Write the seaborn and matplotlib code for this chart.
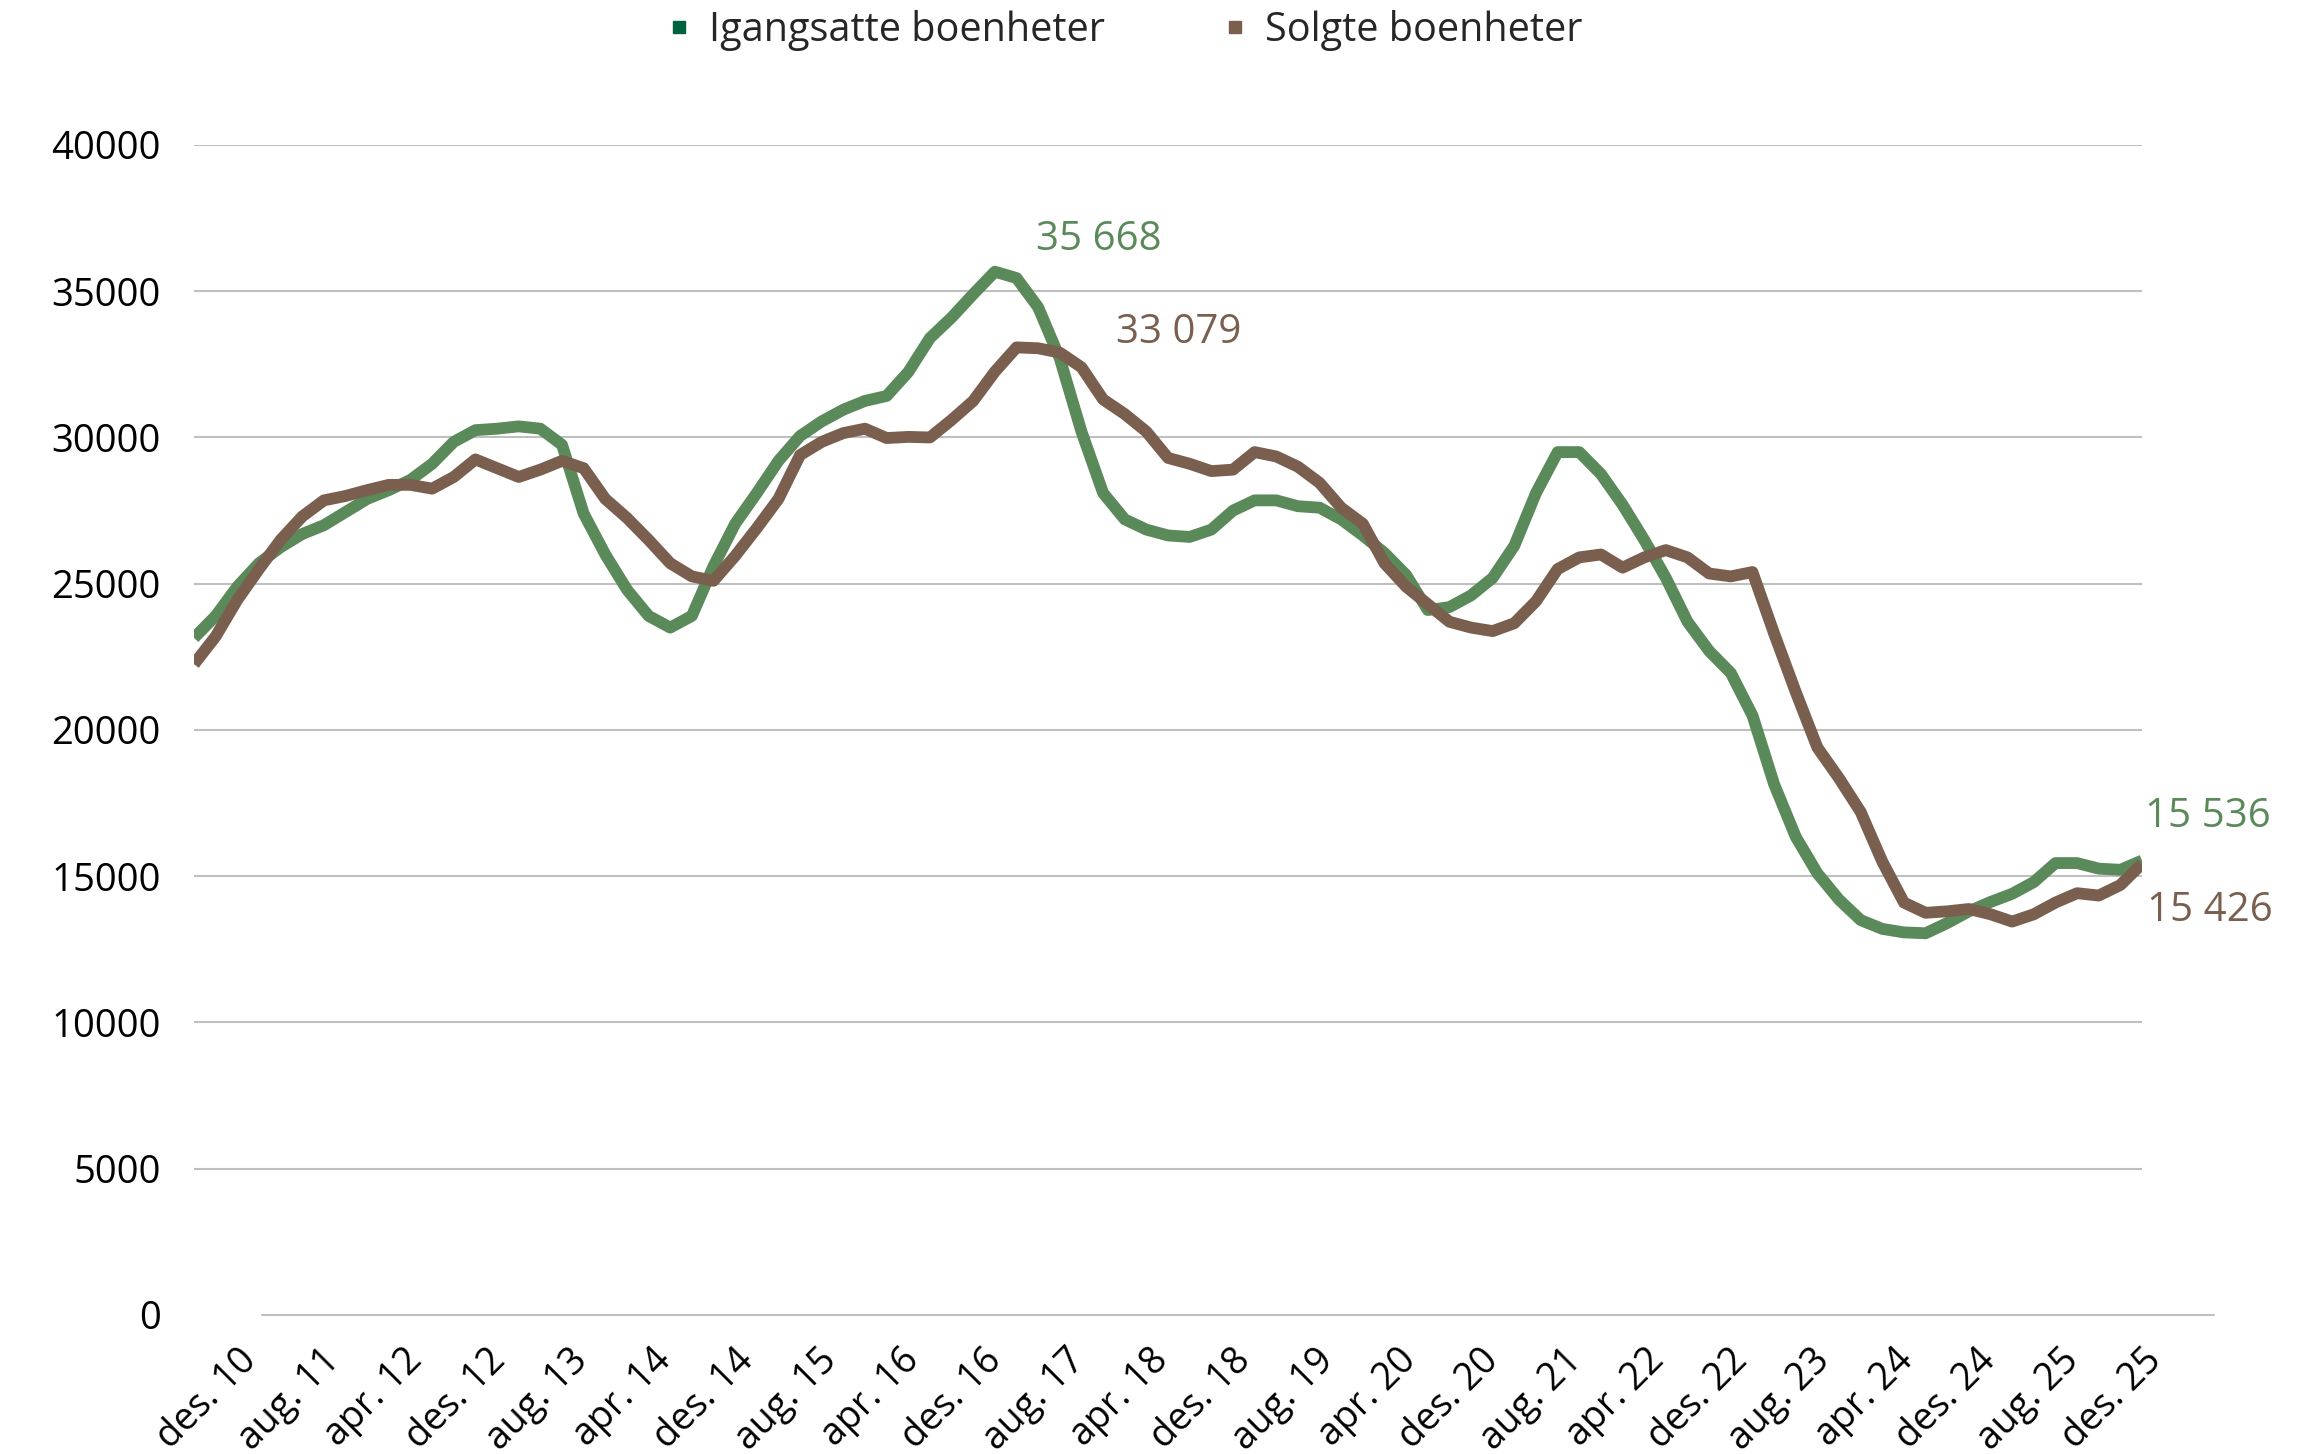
import numpy as np
import pandas as pd
import matplotlib.pyplot as plt
import seaborn as sns
from matplotlib.lines import Line2D
from matplotlib.transforms import ScaledTranslation

# month index: 0 = des. 10, 180 = des. 25 (read every second month)
months = list(range(0, 181, 2))

igangsatte = [
    23150, 23900, 24900, 25700, 26250, 26700, 27000, 27450, 27900, 28200,
    28550, 29100, 29850, 30250, 30300, 30380, 30300, 29750, 27400, 26000,
    24800, 23900, 23500, 23900, 25600, 27050, 28100, 29200, 30050, 30550,
    30950, 31250, 31420, 32240, 33400, 34100, 34900, 35668, 35450, 34450,
    32700, 30200, 28100, 27200, 26850, 26650, 26600, 26850, 27500, 27850,
    27850, 27650, 27600, 27200, 26650, 26050, 25300, 24100, 24200, 24600,
    25200, 26300, 28100, 29500, 29500, 28750, 27700, 26500, 25200, 23700,
    22700, 21950, 20500, 18150, 16350, 15100, 14200, 13500, 13200, 13080,
    13050, 13400, 13800, 14120, 14400, 14800, 15450, 15450, 15260, 15220,
    15536,
]

solgte = [
    22250, 23200, 24450, 25500, 26500, 27300, 27850, 28000, 28200, 28380,
    28380, 28250, 28650, 29250, 28950, 28650, 28900, 29200, 28950, 27900,
    27250, 26500, 25700, 25250, 25100, 25950, 26900, 27900, 29400, 29850,
    30150, 30300, 29980, 30020, 30000, 30600, 31250, 32250, 33079, 33050,
    32900, 32400, 31300, 30800, 30200, 29300, 29100, 28850, 28900, 29500,
    29350, 29000, 28450, 27600, 27050, 25700, 24900, 24300, 23700, 23500,
    23380, 23650, 24400, 25500, 25900, 26000, 25550, 25900, 26150, 25900,
    25350, 25250, 25400, 23300, 21300, 19400, 18350, 17200, 15500, 14100,
    13750, 13800, 13880, 13700, 13450, 13700, 14100, 14420, 14340, 14700,
    15426,
]

tick_labels = [
    "des. 10", "aug. 11", "apr. 12", "des. 12", "aug. 13", "apr. 14",
    "des. 14", "aug. 15", "apr. 16", "des. 16", "aug. 17", "apr. 18",
    "des. 18", "aug. 19", "apr. 20", "des. 20", "aug. 21", "apr. 22",
    "des. 22", "aug. 23", "apr. 24", "des. 24", "aug. 25", "des. 25",
]

series_names = ["Igangsatte boenheter", "Solgte boenheter"]
line_colors = ["#5b8a5a", "#7a5f4f"]
legend_colors = ["#00613e", "#7a5f4f"]

df = pd.DataFrame({
    "maaned": months * 2,
    "boenheter": igangsatte + solgte,
    "serie": [series_names[0]] * len(months) + [series_names[1]] * len(months),
})

sns.set_theme(style="white")
plt.rcParams["font.family"] = ["Open Sans", "DejaVu Sans"]

fig = plt.figure(figsize=(23.24, 14.54), dpi=100)
ax = fig.add_axes([0.0835, 0.0956, 0.9217 - 0.0835, 0.9003 - 0.0956])

sns.lineplot(data=df, x="maaned", y="boenheter", hue="serie",
             palette=line_colors, linewidth=8.5, legend=False, ax=ax)
for ln in ax.lines:
    ln.set_solid_capstyle("butt")
    ln.set_solid_joinstyle("round")

ax.set_xlim(0, 180)
ax.set_ylim(0, 40000)
ax.set_yticks(range(0, 40001, 5000))
ax.yaxis.grid(True, color="#bfbfbf", linewidth=1.5)
ax.xaxis.grid(False)
ax.get_ygridlines()[0].set_visible(False)
ax.set_axisbelow(True)
for s in ax.spines.values():
    s.set_visible(False)
# offset category axis line like in the original
ax.plot([0.035, 1.037], [0, 0], transform=ax.transAxes, color="#bfbfbf",
        lw=1.5, clip_on=False)

ax.tick_params(axis="y", length=0, pad=24, labelsize=27.5, labelcolor="black")
ax.set_xticks(np.linspace(2, 178, len(tick_labels)))
ax.set_xticklabels(tick_labels, rotation=45, ha="right", va="top",
                   rotation_mode="anchor", fontsize=27, color="black")
ax.tick_params(axis="x", length=0, pad=19)
shift = ScaledTranslation(0.22, 0, fig.dpi_scale_trans)
for lab in ax.get_xticklabels():
    lab.set_transform(lab.get_transform() + shift)
ax.set_xlabel("")
ax.set_ylabel("")

def fmt(v):
    return f"{v:,.0f}".replace(",", " ")

peak_g = int(np.argmax(igangsatte))
peak_s = int(np.argmax(solgte))
lab_size = 29
ax.annotate(fmt(igangsatte[peak_g]), xy=(months[peak_g], igangsatte[peak_g]),
            xytext=(104, 32), textcoords="offset pixels", ha="center",
            va="center", fontsize=lab_size, color=line_colors[0])
ax.annotate(fmt(solgte[peak_s]), xy=(months[peak_s], solgte[peak_s]),
            xytext=(162, 15), textcoords="offset pixels", ha="center",
            va="center", fontsize=lab_size, color=line_colors[1])
ax.annotate(fmt(igangsatte[-1]), xy=(months[-1], igangsatte[-1]),
            xytext=(66, 44), textcoords="offset pixels", ha="center",
            va="center", fontsize=lab_size, color=line_colors[0],
            annotation_clip=False)
ax.annotate(fmt(solgte[-1]), xy=(months[-1], solgte[-1]),
            xytext=(68, -47), textcoords="offset pixels", ha="center",
            va="center", fontsize=lab_size, color=line_colors[1],
            annotation_clip=False)

handles = [Line2D([], [], linestyle="none", marker="s", markersize=9,
                  color=c) for c in legend_colors]
fig.legend(handles, series_names, loc="center", bbox_to_anchor=(0.484, 0.979),
           ncol=2, frameon=False, fontsize=28.5, handlelength=0.6,
           handletextpad=0.45, columnspacing=3.0)

fig.savefig("out.png", dpi=100)
